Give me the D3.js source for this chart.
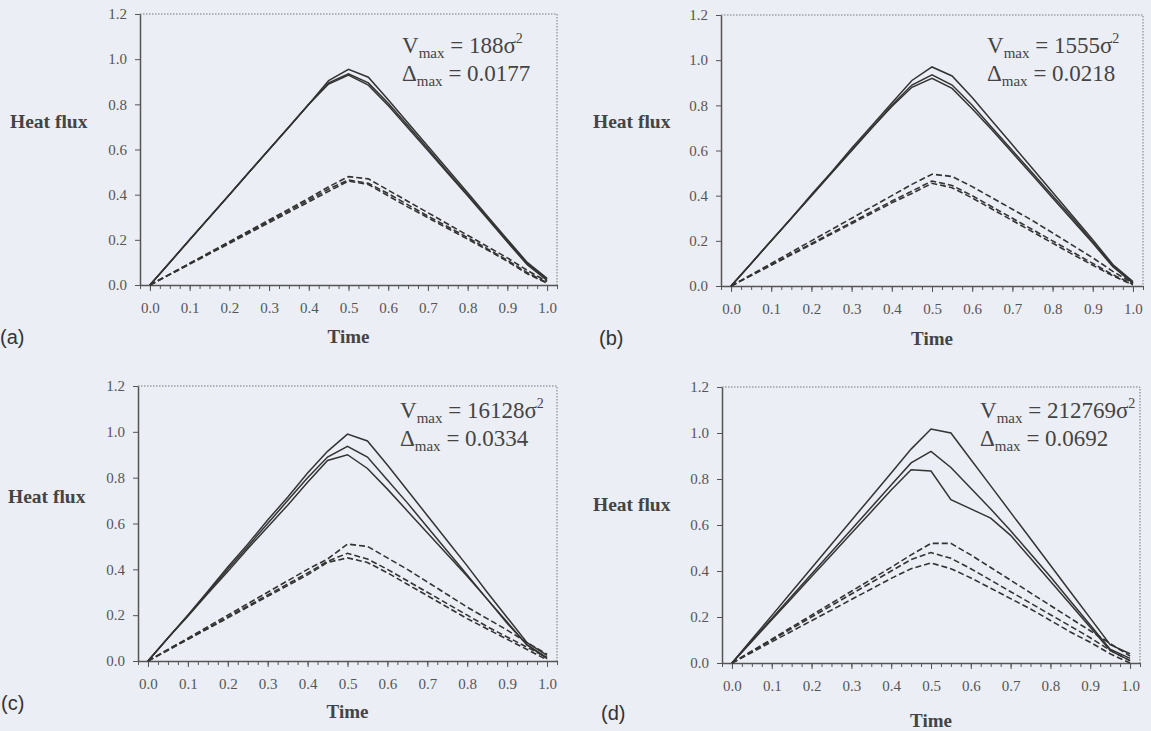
<!DOCTYPE html>
<html>
<head>
<meta charset="utf-8">
<script src="https://cdn.jsdelivr.net/npm/d3@7"></script>
<style>
  html, body { margin: 0; padding: 0; background: #eceef5; }
  svg { display: block; }
</style>
</head>
<body>
<svg id="chart" width="1151" height="731"></svg>
<script>
// sample times shared by every curve
const time = [0, 0.05, 0.1, 0.15, 0.2, 0.25, 0.3, 0.35, 0.4, 0.45, 0.5,
              0.55, 0.6, 0.65, 0.7, 0.75, 0.8, 0.85, 0.9, 0.95, 1.0];

const xTicks = [0, 0.1, 0.2, 0.3, 0.4, 0.5, 0.6, 0.7, 0.8, 0.9, 1.0];
const yTicks = [0, 0.2, 0.4, 0.6, 0.8, 1.0, 1.2];

const panelLetters = ['(a)', '(b)', '(c)', '(d)'];
const vmaxLabels = ['188', '1555', '16128', '212769'];
const deltaLabels = ['0.0177', '0.0218', '0.0334', '0.0692'];

// (a)
const solidA = [
  [0, 0.10, 0.20, 0.30, 0.40, 0.50, 0.60, 0.70, 0.80, 0.905, 0.955, 0.92, 0.82, 0.717, 0.614, 0.511, 0.408, 0.305, 0.202, 0.10, 0.03],
  [0, 0.10, 0.20, 0.30, 0.40, 0.50, 0.60, 0.70, 0.80, 0.895, 0.935, 0.895, 0.805, 0.705, 0.603, 0.50, 0.40, 0.298, 0.196, 0.095, 0.025],
  [0, 0.10, 0.20, 0.30, 0.40, 0.50, 0.60, 0.70, 0.80, 0.89, 0.93, 0.885, 0.795, 0.695, 0.595, 0.495, 0.395, 0.293, 0.19, 0.09, 0.02]
];
const dashedA = [
  [0, 0.048, 0.096, 0.144, 0.192, 0.24, 0.288, 0.336, 0.384, 0.435, 0.48, 0.47, 0.42, 0.37, 0.32, 0.27, 0.22, 0.17, 0.12, 0.065, 0.015],
  [0, 0.047, 0.094, 0.141, 0.188, 0.235, 0.282, 0.329, 0.376, 0.425, 0.465, 0.45, 0.405, 0.355, 0.305, 0.258, 0.21, 0.16, 0.11, 0.055, 0.01],
  [0, 0.046, 0.092, 0.138, 0.184, 0.23, 0.276, 0.322, 0.368, 0.415, 0.46, 0.445, 0.395, 0.345, 0.298, 0.25, 0.203, 0.155, 0.105, 0.05, 0.008]
];

// (b)
const solidB = [
  [0, 0.10, 0.20, 0.30, 0.405, 0.505, 0.61, 0.71, 0.81, 0.91, 0.97, 0.93, 0.835, 0.73, 0.625, 0.52, 0.415, 0.31, 0.205, 0.095, 0.02],
  [0, 0.10, 0.20, 0.30, 0.40, 0.50, 0.60, 0.70, 0.80, 0.89, 0.935, 0.89, 0.80, 0.70, 0.60, 0.50, 0.40, 0.30, 0.195, 0.09, 0.015],
  [0, 0.10, 0.20, 0.30, 0.40, 0.50, 0.60, 0.70, 0.795, 0.88, 0.92, 0.875, 0.785, 0.69, 0.59, 0.49, 0.39, 0.29, 0.19, 0.085, 0.012]
];
const dashedB = [
  [0, 0.05, 0.10, 0.15, 0.20, 0.25, 0.30, 0.35, 0.40, 0.45, 0.495, 0.485, 0.44, 0.39, 0.34, 0.29, 0.235, 0.18, 0.125, 0.065, 0.012],
  [0, 0.047, 0.094, 0.141, 0.188, 0.235, 0.282, 0.329, 0.376, 0.42, 0.465, 0.445, 0.40, 0.35, 0.30, 0.25, 0.20, 0.15, 0.10, 0.05, 0.008],
  [0, 0.046, 0.092, 0.138, 0.184, 0.23, 0.276, 0.322, 0.368, 0.41, 0.455, 0.435, 0.39, 0.34, 0.29, 0.24, 0.19, 0.14, 0.092, 0.045, 0.005]
];

// (c)
const solidC = [
  [0, 0.10, 0.20, 0.305, 0.41, 0.51, 0.615, 0.715, 0.82, 0.915, 0.99, 0.96, 0.855, 0.745, 0.635, 0.525, 0.415, 0.30, 0.19, 0.08, 0.025],
  [0, 0.10, 0.20, 0.30, 0.40, 0.50, 0.60, 0.70, 0.80, 0.89, 0.937, 0.89, 0.79, 0.69, 0.585, 0.48, 0.375, 0.27, 0.165, 0.07, 0.015],
  [0, 0.10, 0.195, 0.295, 0.39, 0.49, 0.585, 0.68, 0.78, 0.875, 0.90, 0.84, 0.75, 0.655, 0.56, 0.465, 0.37, 0.27, 0.17, 0.07, 0.01]
];
const dashedC = [
  [0, 0.05, 0.10, 0.15, 0.20, 0.25, 0.30, 0.35, 0.40, 0.445, 0.51, 0.50, 0.45, 0.40, 0.345, 0.29, 0.235, 0.185, 0.135, 0.08, 0.03],
  [0, 0.048, 0.096, 0.144, 0.192, 0.24, 0.288, 0.336, 0.384, 0.435, 0.47, 0.445, 0.40, 0.35, 0.30, 0.25, 0.20, 0.15, 0.105, 0.06, 0.015],
  [0, 0.047, 0.094, 0.141, 0.188, 0.235, 0.282, 0.329, 0.376, 0.43, 0.45, 0.43, 0.385, 0.335, 0.285, 0.235, 0.185, 0.14, 0.095, 0.05, 0.005]
];

// (d)
const solidD = [
  [0, 0.103, 0.206, 0.31, 0.413, 0.516, 0.62, 0.723, 0.826, 0.93, 1.017, 1.0, 0.885, 0.77, 0.655, 0.54, 0.425, 0.31, 0.195, 0.08, 0.04],
  [0, 0.097, 0.194, 0.29, 0.387, 0.484, 0.58, 0.677, 0.774, 0.87, 0.92, 0.85, 0.76, 0.67, 0.575, 0.475, 0.375, 0.27, 0.165, 0.06, 0.02],
  [0, 0.094, 0.188, 0.282, 0.376, 0.47, 0.564, 0.658, 0.752, 0.84, 0.835, 0.71, 0.67, 0.63, 0.555, 0.455, 0.355, 0.255, 0.155, 0.055, 0.01]
];
const dashedD = [
  [0, 0.052, 0.104, 0.156, 0.208, 0.26, 0.312, 0.364, 0.416, 0.47, 0.52, 0.52, 0.47, 0.415, 0.36, 0.305, 0.25, 0.195, 0.14, 0.085, 0.03],
  [0, 0.05, 0.10, 0.15, 0.20, 0.25, 0.30, 0.35, 0.40, 0.45, 0.48, 0.455, 0.41, 0.36, 0.31, 0.26, 0.21, 0.16, 0.11, 0.055, 0.01],
  [0, 0.046, 0.092, 0.138, 0.184, 0.23, 0.276, 0.322, 0.368, 0.41, 0.435, 0.41, 0.37, 0.325, 0.28, 0.235, 0.185, 0.135, 0.09, 0.04, 0.0]
];

const solidSeries = [solidA, solidB, solidC, solidD];
const dashedSeries = [dashedA, dashedB, dashedC, dashedD];

// where each panel sits on the page
const layout = [
  { left: 140, right: 557, top: 14, bottom: 285, hf: [10, 128], time: 343, letter: [0, 344], note: [402, 53] },
  { left: 721, right: 1143, top: 15, bottom: 286, hf: [593, 128], time: 345, letter: [599, 345], note: [987, 53] },
  { left: 138, right: 557, top: 386, bottom: 661, hf: [8, 503], time: 718, letter: [1, 710], note: [400, 418] },
  { left: 722, right: 1140, top: 387, bottom: 663, hf: [593, 511], time: 727, letter: [601, 720], note: [980, 418] }
];

const serif = '"Liberation Serif", "Times New Roman", serif';
const ink = '#333';
const svg = d3.select('#chart');

function styleTicks(a) {
  a.selectAll('.tick line').attr('stroke', '#555');
  a.selectAll('.tick text')
    .attr('font-family', serif)
    .attr('font-size', 15)
    .attr('fill', '#555');
}

layout.forEach((p, i) => {
  const x = d3.scaleLinear().domain([-0.025, 1.025]).range([p.left, p.right]);
  const y = d3.scaleLinear().domain([0, 1.2]).range([p.bottom, p.top]);
  const g = svg.append('g');

  // dotted top and right frame
  g.append('path')
    .attr('d', `M${p.left},${p.top}H${p.right}V${p.bottom}`)
    .attr('fill', 'none')
    .attr('stroke', '#777')
    .attr('stroke-width', 1)
    .attr('stroke-dasharray', '1.5,1.5');

  // minor x ticks every 0.025
  g.append('g')
    .attr('transform', `translate(0,${p.bottom})`)
    .call(d3.axisBottom(x).tickValues(d3.range(-0.025, 1.03, 0.025)).tickSize(4).tickSizeOuter(0).tickFormat(''))
    .call((a) => a.select('.domain').remove())
    .call((a) => a.selectAll('.tick line').attr('stroke', '#555'));

  const xAxis = g.append('g')
    .attr('transform', `translate(0,${p.bottom})`)
    .call(d3.axisBottom(x).tickValues(xTicks).tickSize(6).tickSizeOuter(0).tickPadding(11).tickFormat(d3.format('.1f')))
    .call(styleTicks);
  xAxis.select('.domain').attr('stroke', '#555').attr('stroke-width', 1.5);

  const yAxis = g.append('g')
    .attr('transform', `translate(${p.left},0)`)
    .call(d3.axisLeft(y).tickValues(yTicks).tickSize(5).tickSizeOuter(0).tickPadding(8).tickFormat(d3.format('.1f')))
    .call(styleTicks);
  yAxis.select('.domain').attr('stroke', '#555').attr('stroke-width', 1.5);

  const line = d3.line()
    .x((d, j) => x(time[j]))
    .y((d) => y(d));

  g.selectAll('path.solid')
    .data(solidSeries[i])
    .join('path')
    .attr('class', 'solid')
    .attr('d', line)
    .attr('fill', 'none')
    .attr('stroke', ink)
    .attr('stroke-width', 1.5);

  g.selectAll('path.dashed')
    .data(dashedSeries[i])
    .join('path')
    .attr('class', 'dashed')
    .attr('d', line)
    .attr('fill', 'none')
    .attr('stroke', ink)
    .attr('stroke-width', 1.6)
    .attr('stroke-dasharray', '6,3');

  // axis titles
  g.append('text')
    .attr('x', p.hf[0])
    .attr('y', p.hf[1])
    .attr('font-family', serif)
    .attr('font-weight', 'bold')
    .attr('font-size', 19.5)
    .attr('fill', '#444')
    .text('Heat flux');

  g.append('text')
    .attr('x', (p.left + p.right) / 2)
    .attr('y', p.time)
    .attr('text-anchor', 'middle')
    .attr('font-family', serif)
    .attr('font-weight', 'bold')
    .attr('font-size', 19)
    .attr('fill', '#444')
    .text('Time');

  g.append('text')
    .attr('x', p.letter[0])
    .attr('y', p.letter[1])
    .attr('font-family', '"Liberation Sans", Arial, sans-serif')
    .attr('font-size', 20)
    .attr('fill', '#333')
    .text(panelLetters[i]);

  // V_max / Delta_max note
  const v = g.append('text')
    .attr('x', p.note[0])
    .attr('y', p.note[1])
    .attr('font-family', serif)
    .attr('font-size', 23)
    .attr('fill', '#444');
  v.append('tspan').text('V');
  v.append('tspan').attr('font-size', 15).attr('dy', 5).text('max');
  v.append('tspan').attr('dy', -5).text(` = ${vmaxLabels[i]}σ`);
  v.append('tspan').attr('font-size', 14).attr('dy', -10).text('2');

  const dl = g.append('text')
    .attr('x', p.note[0])
    .attr('y', p.note[1] + 28)
    .attr('font-family', serif)
    .attr('font-size', 23)
    .attr('fill', '#444');
  dl.append('tspan').text('Δ');
  dl.append('tspan').attr('font-size', 15).attr('dy', 5).text('max');
  dl.append('tspan').attr('dy', -5).text(` = ${deltaLabels[i]}`);
});
</script>
</body>
</html>
